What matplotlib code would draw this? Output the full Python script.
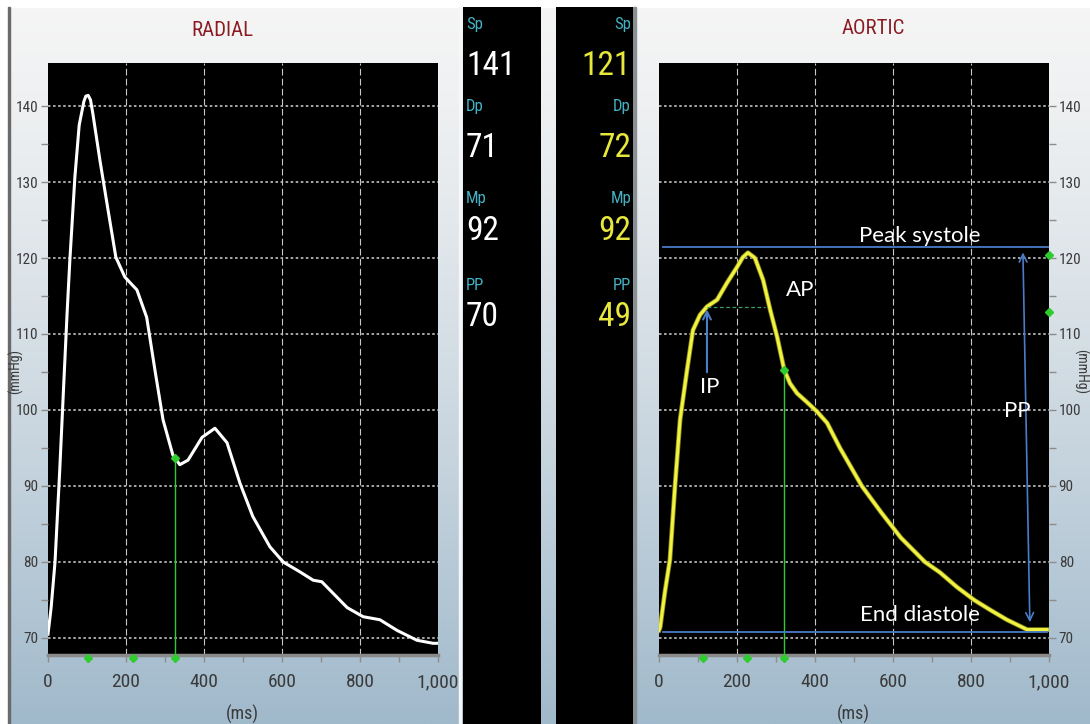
import numpy as np
import matplotlib.pyplot as plt
from matplotlib import font_manager as fm
from matplotlib.font_manager import FontProperties
from matplotlib.patches import Rectangle

# radial pressure waveform (ms, mmHg)
radial_ms = [0, 8, 18, 30, 40, 49, 56, 69, 80, 92, 97, 103, 109, 115, 133, 154, 174,
             197, 228, 253, 275, 295, 320, 338, 359, 395, 428, 459, 492, 525, 569,
             603, 646, 680, 702, 723, 767, 808, 851, 895, 946, 987, 998]
radial_mmhg = [70.5, 74, 80, 92, 103, 112.8, 119.7, 130.7, 137.5, 140.6, 141.3, 141.4,
               140.8, 139, 132.9, 126.3, 120.1, 117.5, 115.8, 112.2, 105, 98.7, 94.1,
               92.8, 93.4, 96.4, 97.6, 95.7, 90.4, 86, 82, 80, 78.7, 77.6, 77.4, 76.3,
               74, 72.8, 72.4, 71, 69.7, 69.3, 69.3]

# aortic (central) pressure waveform (ms, mmHg)
aortic_ms = [0, 3, 15, 28, 41, 54, 72, 87, 105, 123, 149, 174, 200, 215, 228, 246,
             267, 285, 303, 321, 336, 354, 380, 405, 431, 464, 520, 570, 620, 682,
             721, 764, 808, 849, 892, 944, 995]
aortic_mmhg = [71, 71.4, 76, 80.3, 90, 98.7, 105.3, 110.5, 112.5, 113.6, 114.5, 116.7,
               118.8, 120.1, 120.7, 120.0, 117.1, 113.2, 109.6, 105.3, 103.5, 102.2,
               101.0, 99.8, 98.3, 95, 90, 86.5, 83.2, 80, 78.6, 76.7, 75, 73.7, 72.4,
               71.1, 71.1]

stat_names = ["Sp", "Dp", "Mp", "PP"]
radial_stats = ["141", "71", "92", "70"]
aortic_stats = ["121", "72", "92", "49"]

x_ticks = [0, 200, 400, 600, 800, 1000]
x_labels = ["0", "200", "400", "600", "800", "1,000"]
y_ticks = [70, 80, 90, 100, 110, 120, 130, 140]

# markers from the device
radial_marks = [103, 218, 326]
radial_cursor = (326, 93.7)
aortic_marks = [113, 226, 321]
aortic_cursor = (321, 105.3)
aortic_side_marks = [120.4, 112.9]

W, H = 1090, 724

# look for a narrow sans face for the monitor-style text
narrow_path = None
prefs = ["Liberation Sans Narrow", "Roboto Condensed", "Open Sans Condensed",
         "Noto Sans Condensed", "DejaVu Sans Condensed", "Noto Sans", "Open Sans"]
cands = []
for f in fm.fontManager.ttflist:
    if f.style != "normal" or f.weight not in (400, "normal", "regular"):
        continue
    if any(k in f.name for k in ("Mono", "Serif", "CJK")):
        continue
    cond = ("Narrow" in f.name or "Condensed" in f.name or "ondensed" in f.fname
            or "Narrow" in f.fname or f.stretch in ("condensed", "semi-condensed", "extra-condensed"))
    if cond:
        rank = prefs.index(f.name) if f.name in prefs else len(prefs)
        cands.append((rank, f.fname))
if cands:
    narrow_path = sorted(cands)[0][1]


def nf(size):
    if narrow_path:
        return FontProperties(fname=narrow_path, size=size)
    return FontProperties(family="DejaVu Sans", size=size * 0.85)


names = {f.name for f in fm.fontManager.ttflist}
calib = "Lato" if "Lato" in names else "DejaVu Sans"


def box(x, y, w, h):
    # pixel box (top-left origin) -> figure fraction
    return [x / W, 1 - (y + h) / H, w / W, h / H]


def fx(x, y):
    return x / W, 1 - y / H


fig = plt.figure(figsize=(W / 100, H / 100), dpi=100)

# background gradient
bg = fig.add_axes([0, 0, 1, 1], zorder=-10)
t = np.linspace(0, 1, 256)
top = np.array([245, 245, 245]) / 255
bot = np.array([160, 185, 203]) / 255
grad = top[None, :] + (bot - top)[None, :] * (t ** 1.3)[:, None]
bg.imshow(grad.reshape(256, 1, 3), aspect="auto", extent=[0, 1, 0, 1], origin="upper")
bg.set_xlim(0, 1)
bg.set_ylim(0, 1)
bg.axis("off")

# frame bits
fig.add_artist(Rectangle((0, 0), 8 / W, 1, transform=fig.transFigure, color="white", zorder=-5))
fig.add_artist(Rectangle((0, 1 - 7 / H), 1, 7 / H, transform=fig.transFigure, color="white", zorder=-5))
fig.add_artist(Rectangle((8 / W, 0), 1.5 / W, 1 - 7 / H, transform=fig.transFigure, color="#6a6a6a", zorder=-4))
fig.add_artist(Rectangle((459 / W, 0), 2 / W, 1 - 7 / H, transform=fig.transFigure, color="#f4f6f8", zorder=-4))
fig.add_artist(Rectangle((633 / W, 0), 3 / W, 1 - 7 / H, transform=fig.transFigure, color="#8a8f93", zorder=-4))

# numeric columns
for x0, w in [(463, 78), (556, 77)]:
    col = fig.add_axes(box(x0, 7, w, H - 7))
    col.set_facecolor("black")
    col.set_xticks([])
    col.set_yticks([])
    for s in col.spines.values():
        s.set_visible(False)

label_y = [25, 106, 198, 285]
value_y = [66, 148, 231, 317]
for name, rv, av, ly, vy in zip(stat_names, radial_stats, aortic_stats, label_y, value_y):
    fig.text(*fx(466, ly), name, color="#44b2c4", fontproperties=nf(12), ha="left", va="center")
    fig.text(*fx(466, vy), rv, color="white", fontproperties=nf(24), ha="left", va="center")
    fig.text(*fx(631, ly), name, color="#44b2c4", fontproperties=nf(12), ha="right", va="center")
    fig.text(*fx(631, vy), av, color="#e8e83c", fontproperties=nf(24), ha="right", va="center")

YLIM = (67.76, 145.66)


def setup(ax, right=False):
    ax.set_facecolor("black")
    ax.set_xlim(0, 1000)
    ax.set_ylim(*YLIM)
    for y in y_ticks:
        ax.axhline(y, color="#b4b4b4", lw=1.3, ls=(0, (1.4, 1.4)), zorder=1)
    for x in x_ticks[1:-1]:
        ax.axvline(x, color="#c8c8c8", lw=0.8, ls=(0, (6, 3)), zorder=1)
    ax.set_xticks(x_ticks)
    ax.set_xticklabels(x_labels, fontproperties=nf(14), color="#3a3a3a")
    ax.set_xticks(range(100, 1000, 200), minor=True)
    ax.set_yticks(y_ticks)
    ax.set_yticklabels([str(v) for v in y_ticks], fontproperties=nf(11), color="#3a3a3a")
    ax.set_yticks(range(75, 141, 10), minor=True)
    ax.tick_params(which="both", colors="#8c8c8c", length=5, width=1, direction="out")
    ax.tick_params(axis="both", labelcolor="#3a3a3a", pad=2)
    ax.tick_params(axis="x", pad=8)
    for s in ["top", "left", "right"]:
        ax.spines[s].set_visible(False)
    ax.spines["bottom"].set_color("#8a8a8a")
    ax.spines["bottom"].set_linewidth(2.5)
    if right:
        ax.yaxis.tick_right()


# radial panel
axl = fig.add_axes(box(48, 63, 390, 592))
setup(axl)
axl.plot(radial_ms, radial_mmhg, color="white", lw=2.2, solid_joinstyle="round", zorder=3)
axl.plot([radial_cursor[0]] * 2, [radial_cursor[1], YLIM[0]], color="#2ecc2e", lw=1.0, zorder=4)
axl.plot(*radial_cursor, "D", ms=4, color="#2ecc2e", zorder=5)
axl.plot(radial_marks, [YLIM[0] - 0.4] * 3, "D", ms=4, color="#2ecc2e", clip_on=False, zorder=6)

# aortic panel
axr = fig.add_axes(box(659, 63, 390, 592))
setup(axr, right=True)
axr.plot(aortic_ms, aortic_mmhg, color="#8a8a20", lw=3.4, solid_joinstyle="round", zorder=3)
axr.plot(aortic_ms, aortic_mmhg, color="#f2f240", lw=2.2, solid_joinstyle="round", zorder=3)
axr.plot([aortic_cursor[0]] * 2, [aortic_cursor[1], YLIM[0]], color="#2ecc2e", lw=1.0, zorder=4)
axr.plot(*aortic_cursor, "D", ms=4, color="#2ecc2e", zorder=5)
axr.plot(aortic_marks, [YLIM[0] - 0.4] * 3, "D", ms=4, color="#2ecc2e", clip_on=False, zorder=6)
axr.plot([1000] * 2, aortic_side_marks, "D", ls="none", ms=4, color="#2ecc2e", clip_on=False, zorder=6)

# annotations on the aortic wave
blue = "#4a7cc8"
axr.plot([10, 997], [121.45, 121.45], color=blue, lw=1.3, zorder=4)
axr.plot([10, 995], [70.8, 70.8], color=blue, lw=1.3, zorder=4)
axr.plot([123, 272], [113.6, 113.6], color="#3a9a6a", lw=0.9, ls=(0, (3, 2)), zorder=4)
axr.annotate("", xy=(933, 121.1), xytext=(951, 71.7),
             arrowprops=dict(arrowstyle="<->", color=blue, lw=1.2, mutation_scale=14), zorder=4)
axr.annotate("", xy=(123, 113.6), xytext=(123, 104.6),
             arrowprops=dict(arrowstyle="->", color=blue, lw=1.5, mutation_scale=14), zorder=4)
txt = dict(color="white", fontsize=16, family=calib, ha="center", va="center", zorder=6)
axr.text(669, 122.9, "Peak systole", **txt)
axr.text(362, 115.8, "AP", **txt)
axr.text(131, 103.0, "IP", **txt)
axr.text(918, 99.9, "PP", **txt)
axr.text(669, 73.0, "End diastole", **txt)

# titles and axis labels
fig.text(*fx(222, 30), "RADIAL", color="#8b1c24", fontproperties=nf(15), ha="center", va="center")
fig.text(*fx(873, 29), "AORTIC", color="#8b1c24", fontproperties=nf(15), ha="center", va="center")
fig.text(*fx(242, 714), "(ms)", color="#3a3a3a", fontproperties=nf(13), ha="center", va="center")
fig.text(*fx(853, 714), "(ms)", color="#3a3a3a", fontproperties=nf(13), ha="center", va="center")
fig.text(*fx(15, 371), "(mmHg)", color="#3a3a3a", fontproperties=nf(10), rotation=90, ha="center", va="center")
fig.text(*fx(1081, 371), "(mmHg)", color="#3a3a3a", fontproperties=nf(10), rotation=-90, ha="center", va="center")

fig.savefig("out.png", dpi=100)
